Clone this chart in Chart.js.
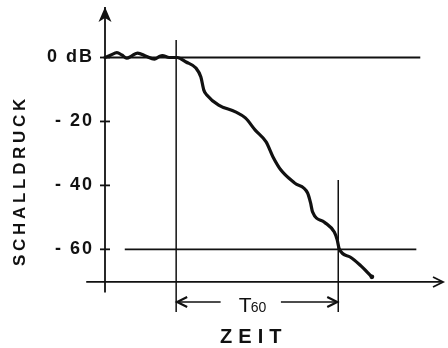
<!DOCTYPE html>
<html><head><meta charset="utf-8">
<script src="https://cdn.jsdelivr.net/npm/chart.js@4"></script>
<style>html,body{margin:0;padding:0;background:#fff}#wrap{width:448px;height:348px}</style>
</head><body><div id="wrap"><canvas id="c" width="448" height="348"></canvas></div>
<script>
// ---- data (time in arbitrary units, level in dB) ----
const curveTime  = [0,0.6,1.2,1.7,2.2,2.7,3.3,4.1,5.0,5.5,5.8,6.5,7.3,8.2,9.2,9.7,10.0,10.3,11.5,13.2,14.2,15.2,16.3,17.0,17.8,19.2,20.5,20.8,21.0,22.2,23.2,23.5,23.7,24.8,25.8,27.0];
const curveLevel = [0,0.8,1.5,0.8,-0.2,0.5,1.4,0.5,-0.5,0.3,0.6,0,0,-1.4,-3.3,-6.1,-10.2,-11.7,-14.9,-17.0,-18.9,-22.7,-26.4,-31.1,-35.2,-39.3,-42.4,-45.5,-48.3,-51.5,-54.6,-57.1,-59.9,-62.4,-64.9,-68.6];
const yTickValues = [0,-20,-40,-60];
const yTickLabels = ['0 dB','- 20','- 40','- 60'];
const xRange = [0, 34.3];
const yRange = [-79.6, 15.8];
const timeAxisLevel = -70.2;
const timeAxisExtent = [-1.9, 34.2];
const levelAxisExtent = [-73.5, 15.8];
const zeroLineExtent = [0, 31.9];
const sixtyLineExtent = [2.0, 31.5];
const sixtyLevel = -60;
const decayStart = 7.2, decayEnd = 23.6;
const decayStartTop = 5.5, decayEndTop = -38.3, markerBottom = -79.6;
const t60Level = -76.5;
const t60Gap = [11.7, 17.8];
const yTitle = 'SCHALLDRUCK', xTitle = 'ZEIT', t60Main = 'T', t60Sub = '60';

const INK = '#111';
function seg(pts, w) {
  return { data: pts.map(p => ({x:p[0], y:p[1]})), borderColor: INK, borderWidth: w,
           pointRadius: 0, tension: 0, fill: false, clip: false };
}
const datasets = [
  seg([[timeAxisExtent[0], timeAxisLevel],[timeAxisExtent[1], timeAxisLevel]], 1.8),
  seg([[0, levelAxisExtent[0]],[0, levelAxisExtent[1]]], 1.8),
  seg([[zeroLineExtent[0], 0],[zeroLineExtent[1], 0]], 1.8),
  seg([[sixtyLineExtent[0], sixtyLevel],[sixtyLineExtent[1], sixtyLevel]], 1.6),
  seg([[decayStart, decayStartTop],[decayStart, markerBottom]], 1.5),
  seg([[decayEnd, decayEndTop],[decayEnd, markerBottom]], 1.5),
  seg([[decayStart, t60Level],[t60Gap[0], t60Level]], 1.5),
  seg([[t60Gap[1], t60Level],[decayEnd, t60Level]], 1.5),
  { data: curveTime.map((t,i)=>({x:t, y:curveLevel[i]})), borderColor: INK, borderWidth: 3.2,
    cubicInterpolationMode: 'monotone', borderCapStyle:'round', borderJoinStyle:'round',
    pointRadius: c => c.dataIndex === curveTime.length-1 ? 2.4 : 0,
    pointBackgroundColor: INK, pointBorderWidth: 0, fill:false, clip: false }
];

const decor = {
  id: 'decor',
  beforeDraw(chart) { chart.ctx.letterSpacing = '2px'; },
  afterDatasetsDraw(chart) {
    const ctx = chart.ctx, xs = chart.scales.x, ys = chart.scales.y;
    const X = v => xs.getPixelForValue(v), Y = v => ys.getPixelForValue(v);
    ctx.save();
    ctx.fillStyle = INK; ctx.strokeStyle = INK; ctx.lineWidth = 1.8;
    // y-axis arrowhead
    const ax = X(0), ay = Y(levelAxisExtent[1]);
    ctx.beginPath(); ctx.moveTo(ax, ay); ctx.lineTo(ax+6.5, ay+15); ctx.lineTo(ax, ay+11); ctx.lineTo(ax-6.5, ay+15); ctx.closePath(); ctx.fill();
    // y ticks
    yTickValues.forEach(v => { ctx.beginPath(); ctx.moveTo(ax-5, Y(v)); ctx.lineTo(ax+5, Y(v)); ctx.stroke(); });
    // x-axis arrow
    const bx = X(timeAxisExtent[1]), by = Y(timeAxisLevel);
    ctx.beginPath(); ctx.moveTo(bx-10, by-5); ctx.lineTo(bx, by); ctx.lineTo(bx-10, by+5); ctx.stroke();
    // T60 arrowheads
    const ty = Y(t60Level), l = X(decayStart), r = X(decayEnd);
    ctx.lineWidth = 2.2;
    ctx.beginPath(); ctx.moveTo(l+11, ty-5); ctx.lineTo(l+1, ty); ctx.lineTo(l+11, ty+5); ctx.stroke();
    ctx.beginPath(); ctx.moveTo(r-11, ty-5); ctx.lineTo(r-1, ty); ctx.lineTo(r-11, ty+5); ctx.stroke();
    // texts
    ctx.textBaseline = 'alphabetic';
    const gm = (X(t60Gap[0]) + X(t60Gap[1])) / 2;
    ctx.letterSpacing = '0px';
    ctx.font = '21px "Liberation Sans", Arial, sans-serif';
    ctx.textAlign = 'left';
    ctx.fillText(t60Main, gm - 12, ty + 10);
    ctx.font = '14px "Liberation Sans", Arial, sans-serif';
    ctx.fillText(t60Sub, gm + 0, ty + 10);
    ctx.letterSpacing = '6px';
    ctx.font = 'bold 20px "Liberation Sans", Arial, sans-serif';
    ctx.textAlign = 'center';
    ctx.fillText(xTitle, gm + 3, 343);
    // y title
    ctx.save();
    ctx.translate(25, (chart.chartArea.top + chart.chartArea.bottom)/2 + 23);
    ctx.rotate(-Math.PI/2);
    ctx.letterSpacing = '3.7px';
    ctx.font = 'bold 17px "Liberation Sans", Arial, sans-serif';
    ctx.textAlign = 'center';
    ctx.fillText(yTitle, 2, 0);
    ctx.restore();
    ctx.restore();
  }
};

new Chart(document.getElementById('c'), {
  type: 'line',
  data: { datasets },
  options: {
    responsive: false, animation: false, events: [],
    layout: { padding: { top: 7, right: 0, bottom: 36, left: 0 } },
    plugins: { legend: { display: false }, tooltip: { enabled: false } },
    scales: {
      x: { type: 'linear', min: xRange[0], max: xRange[1], display: false },
      y: { type: 'linear', min: yRange[0], max: yRange[1],
           grid: { display: false, drawTicks: false }, border: { display: false },
           afterBuildTicks: s => { s.ticks = yTickValues.map(v => ({ value: v })); },
           afterFit: s => { s.width = 105; s.paddingTop = 0; s.paddingBottom = 0; },
           ticks: { padding: 11, color: INK, autoSkip: false,
                    font: { family: '"Liberation Sans", Arial, sans-serif', size: 18, weight: 'bold' },
                    callback: (v) => yTickLabels[yTickValues.indexOf(v)] ?? '' } }
    }
  },
  plugins: [decor]
});
</script></body></html>
